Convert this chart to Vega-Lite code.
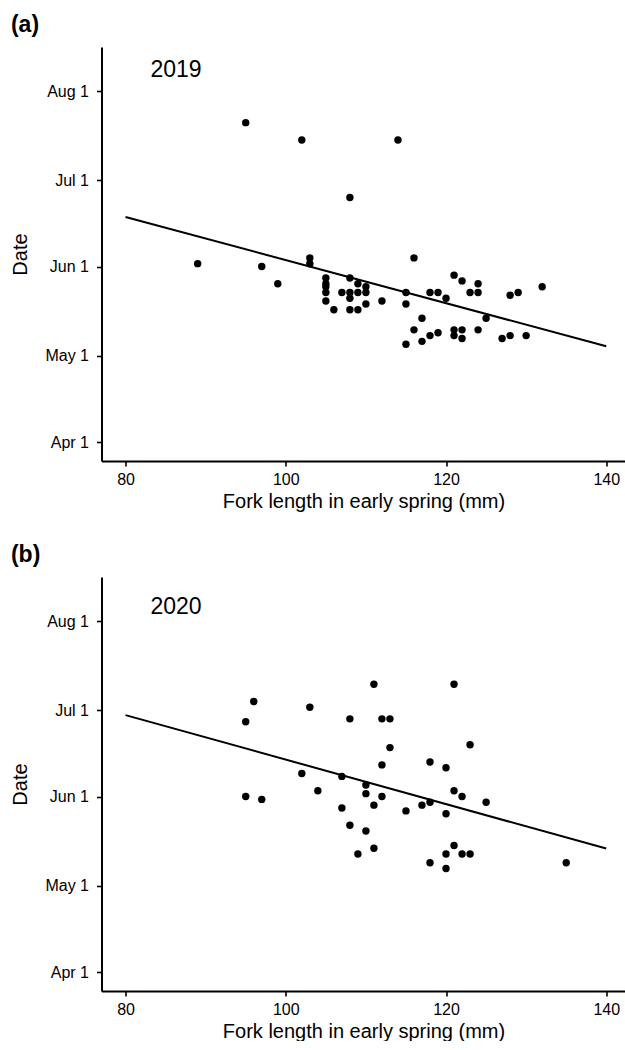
{
  "$schema": "https://vega.github.io/schema/vega-lite/v6.json",
  "padding": {"left": 10.5, "top": 14, "right": 0, "bottom": 0},
  "background": "white",
  "config": {
    "view": {"stroke": null},
    "font": "Liberation Sans",
    "axis": {
      "grid": false,
      "domainColor": "black",
      "domainWidth": 2,
      "tickColor": "black",
      "tickWidth": 1.6,
      "tickSize": 5,
      "labelColor": "black",
      "labelFontSize": 16,
      "labelFont": "Liberation Sans",
      "labelPadding": 8,
      "labelFlush": false,
      "titleFont": "Liberation Sans",
      "titleFontSize": 20,
      "titleFontWeight": "normal",
      "titleColor": "black"
    },
    "axisX": {"labelPadding": 5},
    "axisY": {"titlePadding": 14},
    "title": {"fontSize": 23, "fontWeight": "bold", "anchor": "start", "frame": "bounds", "color": "black", "font": "Liberation Sans", "offset": 10},
    "concat": {"spacing": 33}
  },
  "datasets": {
    "pts2019": [
      {"length": 89, "date": "2019-06-02"},
      {"length": 95, "date": "2019-07-21"},
      {"length": 97, "date": "2019-06-01"},
      {"length": 99, "date": "2019-05-26"},
      {"length": 102, "date": "2019-07-15"},
      {"length": 103, "date": "2019-06-04"},
      {"length": 103, "date": "2019-06-02"},
      {"length": 105, "date": "2019-05-28"},
      {"length": 105, "date": "2019-05-26"},
      {"length": 105, "date": "2019-05-25"},
      {"length": 105, "date": "2019-05-23"},
      {"length": 105, "date": "2019-05-20"},
      {"length": 106, "date": "2019-05-17"},
      {"length": 107, "date": "2019-05-23"},
      {"length": 108, "date": "2019-05-28"},
      {"length": 108, "date": "2019-05-23"},
      {"length": 108, "date": "2019-05-21"},
      {"length": 108, "date": "2019-05-17"},
      {"length": 108, "date": "2019-06-25"},
      {"length": 109, "date": "2019-05-26"},
      {"length": 109, "date": "2019-05-23"},
      {"length": 109, "date": "2019-05-17"},
      {"length": 110, "date": "2019-05-25"},
      {"length": 110, "date": "2019-05-23"},
      {"length": 110, "date": "2019-05-19"},
      {"length": 112, "date": "2019-05-20"},
      {"length": 114, "date": "2019-07-15"},
      {"length": 115, "date": "2019-05-23"},
      {"length": 115, "date": "2019-05-19"},
      {"length": 115, "date": "2019-05-05"},
      {"length": 116, "date": "2019-06-04"},
      {"length": 116, "date": "2019-05-10"},
      {"length": 117, "date": "2019-05-14"},
      {"length": 117, "date": "2019-05-06"},
      {"length": 118, "date": "2019-05-08"},
      {"length": 118, "date": "2019-05-23"},
      {"length": 119, "date": "2019-05-09"},
      {"length": 119, "date": "2019-05-23"},
      {"length": 120, "date": "2019-05-21"},
      {"length": 121, "date": "2019-05-29"},
      {"length": 121, "date": "2019-05-10"},
      {"length": 121, "date": "2019-05-08"},
      {"length": 122, "date": "2019-05-27"},
      {"length": 122, "date": "2019-05-10"},
      {"length": 122, "date": "2019-05-07"},
      {"length": 123, "date": "2019-05-23"},
      {"length": 124, "date": "2019-05-26"},
      {"length": 124, "date": "2019-05-23"},
      {"length": 124, "date": "2019-05-10"},
      {"length": 125, "date": "2019-05-14"},
      {"length": 127, "date": "2019-05-07"},
      {"length": 128, "date": "2019-05-08"},
      {"length": 128, "date": "2019-05-22"},
      {"length": 129, "date": "2019-05-23"},
      {"length": 130, "date": "2019-05-08"},
      {"length": 132, "date": "2019-05-25"}
    ],
    "fit2019": [
      {"length": 80, "date": "2019-06-18T05:00:00Z"},
      {"length": 140, "date": "2019-05-04T07:00:00Z"}
    ],
    "pts2020": [
      {"length": 95, "date": "2020-06-27"},
      {"length": 96, "date": "2020-07-04"},
      {"length": 95, "date": "2020-06-01"},
      {"length": 97, "date": "2020-05-31"},
      {"length": 103, "date": "2020-07-02"},
      {"length": 102, "date": "2020-06-09"},
      {"length": 104, "date": "2020-06-03"},
      {"length": 107, "date": "2020-06-08"},
      {"length": 107, "date": "2020-05-28"},
      {"length": 108, "date": "2020-06-28"},
      {"length": 108, "date": "2020-05-22"},
      {"length": 109, "date": "2020-05-12"},
      {"length": 110, "date": "2020-06-05"},
      {"length": 110, "date": "2020-06-02"},
      {"length": 110, "date": "2020-05-20"},
      {"length": 111, "date": "2020-07-10"},
      {"length": 111, "date": "2020-05-29"},
      {"length": 111, "date": "2020-05-14"},
      {"length": 112, "date": "2020-06-28"},
      {"length": 113, "date": "2020-06-28"},
      {"length": 113, "date": "2020-06-18"},
      {"length": 112, "date": "2020-06-12"},
      {"length": 112, "date": "2020-06-01"},
      {"length": 115, "date": "2020-05-27"},
      {"length": 117, "date": "2020-05-29"},
      {"length": 118, "date": "2020-06-13"},
      {"length": 118, "date": "2020-05-30"},
      {"length": 118, "date": "2020-05-09"},
      {"length": 120, "date": "2020-06-11"},
      {"length": 120, "date": "2020-05-26"},
      {"length": 120, "date": "2020-05-12"},
      {"length": 120, "date": "2020-05-07"},
      {"length": 121, "date": "2020-07-10"},
      {"length": 121, "date": "2020-06-03"},
      {"length": 121, "date": "2020-05-15"},
      {"length": 122, "date": "2020-06-01"},
      {"length": 122, "date": "2020-05-12"},
      {"length": 123, "date": "2020-05-12"},
      {"length": 123, "date": "2020-06-19"},
      {"length": 125, "date": "2020-05-30"},
      {"length": 135, "date": "2020-05-09"}
    ],
    "fit2020": [
      {"length": 80, "date": "2020-06-29T07:00:00Z"},
      {"length": 140, "date": "2020-05-13T22:00:00Z"}
    ]
  },
  "vconcat": [
    {
      "title": {"text": "(a)"},
      "width": 524,
      "height": 414,
      "layer": [
        {
          "data": {"name": "pts2019"},
          "mark": {"type": "circle", "size": 55, "color": "black", "opacity": 1},
          "encoding": {
            "x": {
              "field": "length", "type": "quantitative",
              "scale": {"domain": [77, 142.4], "nice": false, "zero": false},
              "axis": {"values": [80, 100, 120, 140], "title": "Fork length in early spring (mm)"}
            },
            "y": {
              "field": "date", "type": "temporal",
              "scale": {"type": "utc", "nice": false, "domain": [
                {"year": 2019, "month": "mar", "date": 25, "hours": 10, "utc": true},
                {"year": 2019, "month": "aug", "date": 16, "hours": 7, "utc": true}
              ]},
              "axis": {"title": "Date", "format": "%b %-d", "values": [
                {"year": 2019, "month": "apr", "date": 1, "utc": true},
                {"year": 2019, "month": "may", "date": 1, "utc": true},
                {"year": 2019, "month": "jun", "date": 1, "utc": true},
                {"year": 2019, "month": "jul", "date": 1, "utc": true},
                {"year": 2019, "month": "aug", "date": 1, "utc": true}
              ]}
            }
          }
        },
        {
          "data": {"name": "fit2019"},
          "mark": {"type": "line", "color": "black", "strokeWidth": 2},
          "encoding": {
            "x": {"field": "length", "type": "quantitative"},
            "y": {"field": "date", "type": "temporal"}
          }
        },
        {
          "data": {"values": [{"label": "2019"}]},
          "mark": {"type": "text", "fontSize": 23, "color": "black", "baseline": "middle", "align": "center"},
          "encoding": {
            "x": {"datum": 86.3, "type": "quantitative"},
            "y": {"datum": {"year": 2019, "month": "aug", "date": 8, "hours": 5, "utc": true}, "type": "temporal"},
            "text": {"field": "label", "type": "nominal"}
          }
        }
      ]
    },
    {
      "title": {"text": "(b)"},
      "width": 524,
      "height": 414,
      "layer": [
        {
          "data": {"name": "pts2020"},
          "mark": {"type": "circle", "size": 55, "color": "black", "opacity": 1},
          "encoding": {
            "x": {
              "field": "length", "type": "quantitative",
              "scale": {"domain": [77, 142.4], "nice": false, "zero": false},
              "axis": {"values": [80, 100, 120, 140], "title": "Fork length in early spring (mm)"}
            },
            "y": {
              "field": "date", "type": "temporal",
              "scale": {"type": "utc", "nice": false, "domain": [
                {"year": 2020, "month": "mar", "date": 25, "hours": 10, "utc": true},
                {"year": 2020, "month": "aug", "date": 16, "hours": 7, "utc": true}
              ]},
              "axis": {"title": "Date", "format": "%b %-d", "values": [
                {"year": 2020, "month": "apr", "date": 1, "utc": true},
                {"year": 2020, "month": "may", "date": 1, "utc": true},
                {"year": 2020, "month": "jun", "date": 1, "utc": true},
                {"year": 2020, "month": "jul", "date": 1, "utc": true},
                {"year": 2020, "month": "aug", "date": 1, "utc": true}
              ]}
            }
          }
        },
        {
          "data": {"name": "fit2020"},
          "mark": {"type": "line", "color": "black", "strokeWidth": 2},
          "encoding": {
            "x": {"field": "length", "type": "quantitative"},
            "y": {"field": "date", "type": "temporal"}
          }
        },
        {
          "data": {"values": [{"label": "2020"}]},
          "mark": {"type": "text", "fontSize": 23, "color": "black", "baseline": "middle", "align": "center"},
          "encoding": {
            "x": {"datum": 86.3, "type": "quantitative"},
            "y": {"datum": {"year": 2020, "month": "aug", "date": 5, "hours": 17, "utc": true}, "type": "temporal"},
            "text": {"field": "label", "type": "nominal"}
          }
        }
      ]
    }
  ]
}
